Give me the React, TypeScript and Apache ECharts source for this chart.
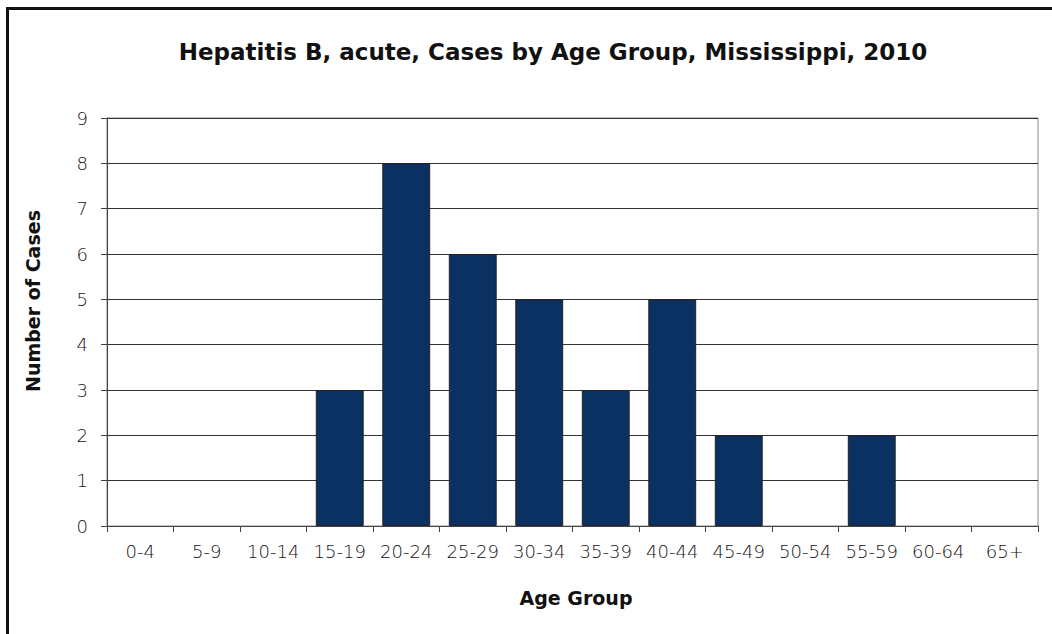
import React, { useEffect, useRef } from "react";
import * as echarts from "echarts";

const ageGroups = [
  "0-4", "5-9", "10-14", "15-19", "20-24", "25-29", "30-34",
  "35-39", "40-44", "45-49", "50-54", "55-59", "60-64", "65+",
];
const cases = [0, 0, 0, 3, 8, 6, 5, 3, 5, 2, 0, 2, 0, 0];

const FONT = "'DejaVu Sans', sans-serif";

export default function App() {
  const ref = useRef<HTMLDivElement>(null);

  useEffect(() => {
    if (!ref.current) return;
    const chart = echarts.init(ref.current, undefined, { renderer: "svg" });
    chart.setOption({
      animation: false,
      backgroundColor: "#ffffff",
      title: {
        text: "Hepatitis B, acute, Cases by Age Group, Mississippi, 2010",
        left: 548,
        top: 35,
        textAlign: "center",
        textStyle: { fontFamily: FONT, fontSize: 23, fontWeight: "bold", color: "#111" },
      },
      graphic: [
        {
          type: "rect",
          shape: { x: 7.5, y: 8.5, width: 1200, height: 800 },
          style: { fill: "none", stroke: "#111", lineWidth: 3 },
          silent: true,
        },
        {
          type: "rect",
          shape: { x: 107, y: 118, width: 931, height: 408 },
          style: { fill: "none", stroke: "#8a8a8a", lineWidth: 1 },
          silent: true,
          z: 0,
        },
        {
          type: "text",
          x: 576,
          y: 598,
          style: {
            text: "Age Group",
            fontFamily: FONT,
            fontSize: 19,
            fontWeight: "bold",
            fill: "#111",
            textAlign: "center",
            textVerticalAlign: "middle",
          },
        },
        {
          type: "text",
          x: 33,
          y: 301,
          rotation: Math.PI / 2,
          style: {
            text: "Number of Cases",
            fontFamily: FONT,
            fontSize: 19,
            fontWeight: "bold",
            fill: "#111",
            textAlign: "center",
            textVerticalAlign: "middle",
          },
        },
      ],
      grid: { left: 107, right: 14, top: 118, bottom: 108, containLabel: false },
      xAxis: {
        type: "category",
        data: ageGroups,
        axisLine: { lineStyle: { color: "#444", width: 1 } },
        axisTick: { show: true, alignWithLabel: false, length: 6, lineStyle: { color: "#444" } },
        axisLabel: { fontFamily: FONT, fontSize: 18, fontWeight: 300, color: "#111", margin: 16, interval: 0 },
      },
      yAxis: {
        type: "value",
        min: 0,
        max: 9,
        interval: 1,
        axisLine: { show: true, lineStyle: { color: "#444", width: 1 } },
        axisTick: { show: true, length: 6, lineStyle: { color: "#444" } },
        axisLabel: { fontFamily: FONT, fontSize: 18, fontWeight: 300, color: "#111", margin: 19 },
        splitLine: { lineStyle: { color: "#333", width: 1 } },
      },
      series: [
        {
          type: "bar",
          data: cases.map((v) => ({
            value: v,
            itemStyle: { borderWidth: v > 0 ? 1 : 0 },
          })),
          barCategoryGap: "28%",
          itemStyle: { color: "#0b3163", borderColor: "#222" },
        },
      ],
    });
    return () => chart.dispose();
  }, []);

  return (
    <div
      ref={ref}
      style={{ position: "fixed", left: 0, top: 0, width: 1052, height: 634 }}
    />
  );
}
